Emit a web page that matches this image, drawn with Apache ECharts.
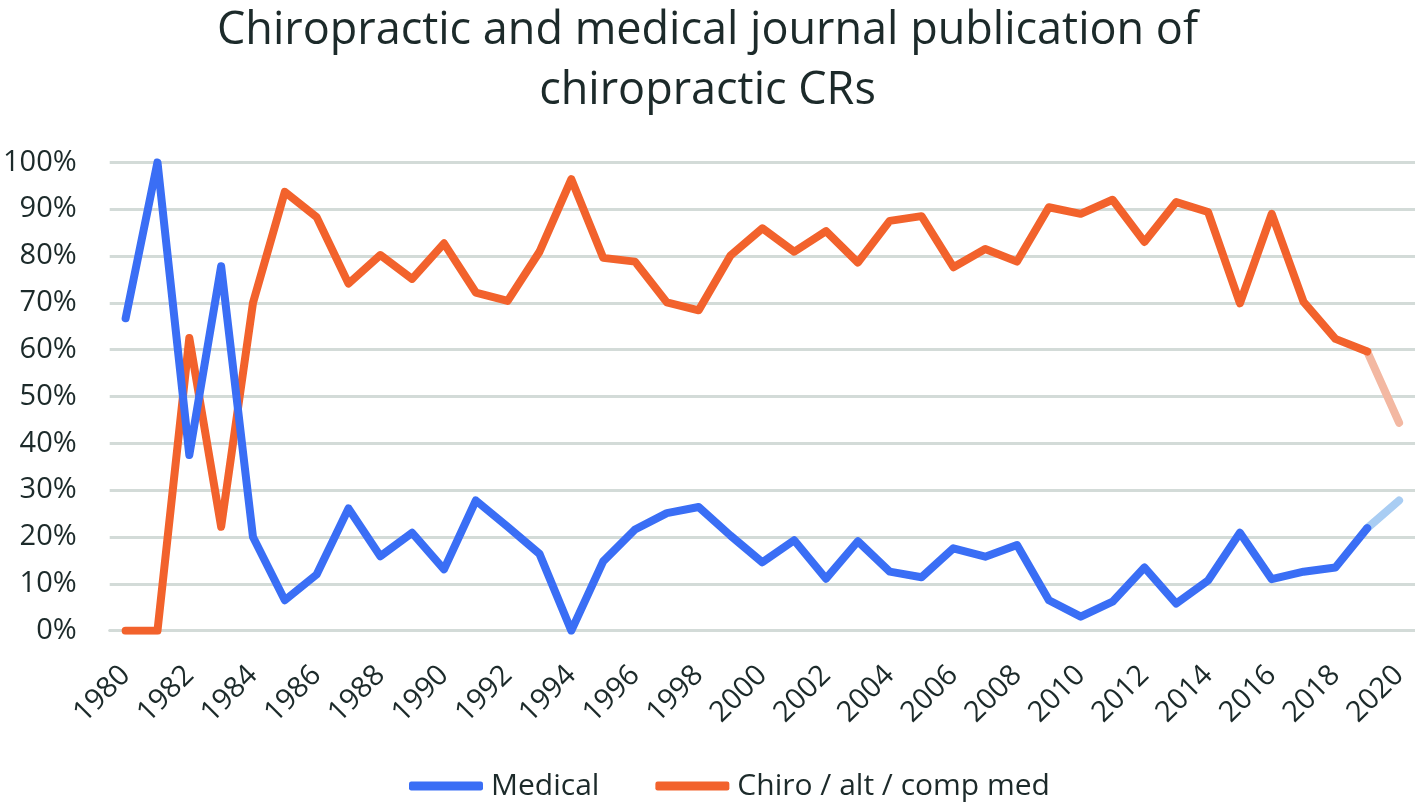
<!DOCTYPE html>
<html>
<head>
<meta charset="utf-8">
<script src="https://cdn.jsdelivr.net/npm/echarts@6/dist/echarts.min.js"></script>
<style>
html,body{margin:0;padding:0;background:#fff;}
#chart{width:1415px;height:803px;}
</style>
</head>
<body>
<div id="chart"></div>
<script>
const years = [];
for (let y = 1980; y <= 2020; y++) years.push(String(y));

const medical = [66.7, 100, 37.5, 77.8, 20, 6.5, 12, 26.1, 15.9, 20.9, 13.1, 27.8,
  22.2, 16.4, 0, 14.8, 21.6, 25.1, 26.4, 20.3, 14.6, 19.3, 11.1, 19.1, 12.6, 11.4,
  17.6, 15.8, 18.3, 6.5, 3, 6.2, 13.5, 5.8, 10.7, 20.9, 11, 12.6, 13.5, 21.9, 27.8];

const chiro = [0, 0, 62.5, 22.2, 70, 93.7, 88.3, 74.1, 80.2, 75.1, 82.7, 72.2,
  70.4, 80.9, 96.4, 79.6, 78.8, 70.1, 68.4, 80.1, 85.9, 80.9, 85.3, 78.6, 87.5, 88.5,
  77.6, 81.5, 78.8, 90.4, 89.0, 92.0, 83.0, 91.5, 89.4, 69.9, 89.0, 70.2, 62.3, 59.6, 44.4];

const seriesNames = ['Medical', 'Chiro / alt / comp med'];
const yTicks = [0, 10, 20, 30, 40, 50, 60, 70, 80, 90, 100];

const blue = '#3A6EF5';
const orange = '#F2622C';
const blueFade = '#A9CDF3';
const orangeFade = '#F3B8A2';
const textColor = '#1C2A2A';
const gridColor = '#D3DBD8';
const font = '"Open Sans"';

const lastIdx = years.length - 1;
const mainPart = arr => arr.map((v, i) => i < lastIdx ? v : null);
const fadePart = arr => arr.map((v, i) => i >= lastIdx - 1 ? v : null);

const chart = echarts.init(document.getElementById('chart'));
chart.setOption({
  animation: false,
  backgroundColor: '#fff',
  title: {
    text: 'Chiropractic and medical journal publication of\nchiropractic CRs',
    left: 'center',
    top: -4,
    textStyle: {
      fontFamily: font,
      fontSize: 45,
      fontWeight: 'normal',
      color: textColor,
      lineHeight: 60
    }
  },
  legend: {
    bottom: -3,
    left: 404,
    data: seriesNames,
    itemWidth: 74,
    itemHeight: 9,
    itemGap: 56,
    icon: 'roundRect',
    textStyle: { fontFamily: font, fontSize: 30, color: textColor, padding: [0, 0, 0, 3] }
  },
  grid: { left: 105, right: 0, top: 162.3, bottom: 172.3 },
  xAxis: {
    type: 'category',
    data: years,
    boundaryGap: true,
    axisLine: { show: true, lineStyle: { color: gridColor, width: 3 } },
    axisTick: { show: false },
    axisLabel: {
      interval: 1,
      rotate: 45,
      margin: 40,
      fontFamily: font,
      fontSize: 29,
      color: textColor
    },
    splitLine: { show: false }
  },
  yAxis: {
    type: 'value',
    min: yTicks[0],
    max: yTicks[yTicks.length - 1],
    interval: 10,
    axisLine: { show: false },
    axisTick: { show: false },
    axisLabel: {
      formatter: '{value}%',
      margin: 33,
      fontFamily: font,
      fontSize: 29,
      color: textColor
    },
    splitLine: { lineStyle: { color: gridColor, width: 3 } }
  },
  series: [
    {
      name: seriesNames[0] + ' fade',
      type: 'line',
      data: fadePart(medical),
      showSymbol: false,
      symbol: 'none',
      lineStyle: { color: blueFade, width: 8, cap: 'round' },
      itemStyle: { color: blueFade },
      z: 1
    },
    {
      name: seriesNames[1] + ' fade',
      type: 'line',
      data: fadePart(chiro),
      showSymbol: false,
      symbol: 'none',
      lineStyle: { color: orangeFade, width: 8, cap: 'round' },
      itemStyle: { color: orangeFade },
      z: 1
    },
    {
      name: seriesNames[0],
      type: 'line',
      data: mainPart(medical),
      showSymbol: false,
      symbol: 'none',
      lineStyle: { color: blue, width: 8, cap: 'round', join: 'round' },
      itemStyle: { color: blue },
      z: 3
    },
    {
      name: seriesNames[1],
      type: 'line',
      data: mainPart(chiro),
      showSymbol: false,
      symbol: 'none',
      lineStyle: { color: orange, width: 8, cap: 'round', join: 'round' },
      itemStyle: { color: orange },
      z: 2
    }
  ]
});
</script>
</body>
</html>
